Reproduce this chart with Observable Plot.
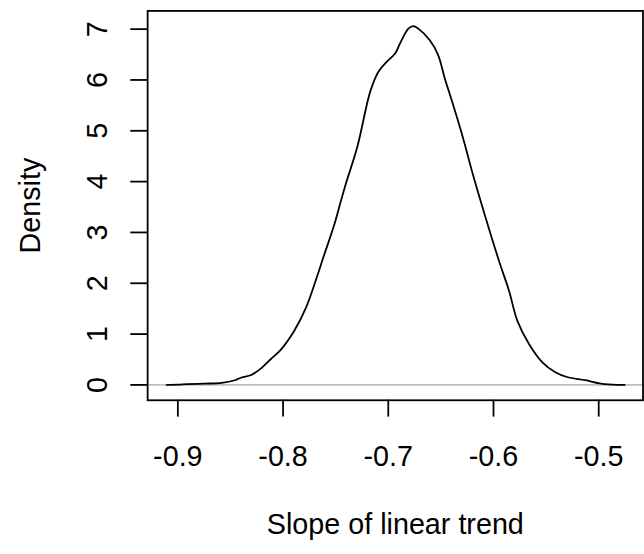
<!DOCTYPE html>
<html>
<head>
<meta charset="utf-8">
<script src="https://cdn.jsdelivr.net/npm/d3@7"></script>
<script src="https://cdn.jsdelivr.net/npm/@observablehq/plot@0.6"></script>
<style>
  html, body { margin: 0; padding: 0; background: #fff; overflow: hidden; }
  #wrap { width: 644px; height: 554px; overflow: hidden; }
</style>
</head>
<body>
<div id="wrap"></div>
<script>
// Density curve
const slope = [-0.9106, -0.9, -0.8912, -0.8755, -0.8583, -0.8457, -0.8395, -0.8303, -0.8206, -0.8115,
  -0.8018, -0.7892, -0.7782, -0.7703, -0.7609, -0.7515, -0.7453, -0.7406, -0.7296, -0.7170,
  -0.7091, -0.7013, -0.6935, -0.6888, -0.6809, -0.6762, -0.6715, -0.6605, -0.6526, -0.6464,
  -0.6385, -0.6291, -0.6197, -0.6072, -0.5946, -0.5852, -0.5773, -0.5664, -0.5538, -0.5412,
  -0.5302, -0.5130, -0.4942, -0.4753];
const density = [0, 0.004, 0.014, 0.025, 0.039, 0.092, 0.146, 0.195, 0.33, 0.51,
  0.70, 1.07, 1.52, 1.97, 2.56, 3.14, 3.60, 3.94, 4.67, 5.78,
  6.17, 6.36, 6.52, 6.72, 7.01, 7.06, 7.01, 6.78, 6.49, 6.04,
  5.52, 4.87, 4.15, 3.27, 2.43, 1.85, 1.26, 0.81, 0.45, 0.25,
  0.156, 0.092, 0.014, 0];
const xTicks = [-0.9, -0.8, -0.7, -0.6, -0.5];
const xTickLabels = ["-0.9", "-0.8", "-0.7", "-0.6", "-0.5"];
const yTicks = [0, 1, 2, 3, 4, 5, 6, 7];
const xTitle = "Slope of linear trend";
const yTitle = "Density";

const curve = slope.map((s, i) => ({slope: s, density: density[i]}));
const xLab = xTicks.map((t, i) => ({t, label: xTickLabels[i]}));
const FS = 29;
const LW = 1.8;

const chart = Plot.plot({
  width: 650,
  height: 554,
  marginLeft: 148.5,
  marginRight: 1.5,
  marginTop: 10.5,
  marginBottom: 150.5,
  style: {fontFamily: "'Liberation Sans', Arial, Helvetica, sans-serif", background: "#fff", color: "#000"},
  x: {domain: [-0.92872, -0.45791]},
  y: {domain: [-0.302, 7.359]},
  marks: [
    Plot.ruleY([0], {stroke: "#bebebe", strokeWidth: LW}),
    Plot.line(curve, {x: "slope", y: "density", stroke: "#000", strokeWidth: LW, curve: "catmull-rom"}),
    Plot.frame({stroke: "#000", strokeWidth: LW}),
    Plot.axisX({ticks: xTicks, tickSize: 17, tickFormat: () => "", label: null, strokeWidth: LW}),
    Plot.axisY({ticks: yTicks, tickSize: 17, tickFormat: () => "", label: null, strokeWidth: LW}),
    Plot.text(xLab, {x: "t", text: "label", frameAnchor: "bottom", dy: 57.5, lineAnchor: "middle", fontSize: FS, fill: "#000"}),
    Plot.text(yTicks, {y: d => d, text: d => String(d), frameAnchor: "left", dx: -50, rotate: -90, textAnchor: "middle", lineAnchor: "middle", fontSize: FS, fill: "#000"}),
    Plot.text([xTitle], {text: d => d, frameAnchor: "bottom", dy: 126, lineAnchor: "middle", fontSize: FS, fill: "#000"}),
    Plot.text([yTitle], {text: d => d, frameAnchor: "left", dx: -117.5, rotate: -90, textAnchor: "middle", lineAnchor: "middle", fontSize: FS, fill: "#000"})
  ]
});
document.getElementById("wrap").appendChild(chart);
</script>
</body>
</html>
